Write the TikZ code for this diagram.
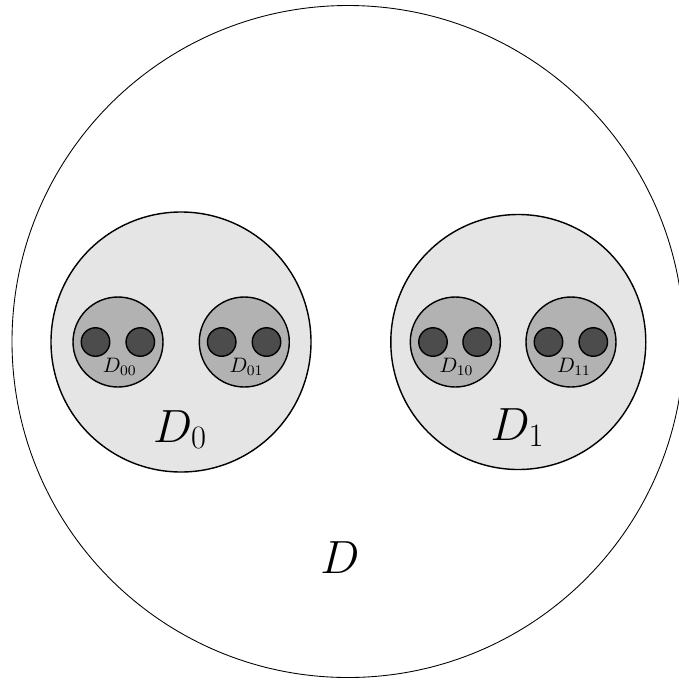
\documentclass[tikz,border=0pt]{standalone}
\usepackage{fix-cm}
\usepackage{tikz}

\begin{document}
\begin{tikzpicture}[x=0.02cm, y=-0.02cm,
	outerdisk/.style={shape=circle, draw, line width=0.5pt, inner sep=0pt, minimum size=672*0.02cm},
	leveldisk/.style={shape=circle, draw, line width=0.8pt, inner sep=0pt, fill=gray!20},
	subdisk/.style={shape=circle, draw, line width=0.8pt, inner sep=0pt, fill=gray!60, minimum size=90*0.02cm},
	leafdisk/.style={shape=circle, draw, line width=0.8pt, inner sep=0pt, fill=black!70, minimum size=28.5*0.02cm},
	biglabel/.style={anchor=base, inner sep=0pt, font=\fontsize{26.5}{30}\selectfont},
	smalllabel/.style={anchor=base, inner sep=0pt, font=\fontsize{11.9}{14}\selectfont}]
	\useasboundingbox (0, 0) rectangle (679, 681);
	\clip (0, 0) rectangle (679, 681);
	% Outer set:
	\node[outerdisk] (D) at (348, 341.5){};
	\node[biglabel] (lD) at (340, 573){$D$};
	% First level:
	\node[leveldisk, minimum size=260*0.02cm] (D0) at (181, 342){};
	\node[leveldisk, minimum size=255*0.02cm] (D1) at (518.3, 342){};
	\node[biglabel] (lD0) at (180, 442){$D_0$};
	\node[biglabel] (lD1) at (517.5, 440){$D_1$};
	% Second level:
	\node[subdisk] (D00) at (118, 342){};
	\node[subdisk] (D01) at (244.3, 342){};
	\node[subdisk] (D10) at (455.3, 342){};
	\node[subdisk] (D11) at (571, 342){};
	% Third level:
	\node[leafdisk] (D000) at (95.5, 342){};
	\node[leafdisk] (D001) at (140.3, 342){};
	\node[leafdisk] (D010) at (221.7, 342){};
	\node[leafdisk] (D011) at (266.5, 342){};
	\node[leafdisk] (D100) at (433, 342){};
	\node[leafdisk] (D101) at (477.2, 342){};
	\node[leafdisk] (D110) at (548.5, 342){};
	\node[leafdisk] (D111) at (593.3, 342){};
	\node[smalllabel] (lD00) at (119.7, 372.7){$D_{00}$};
	\node[smalllabel] (lD01) at (246.5, 372.7){$D_{01}$};
	\node[smalllabel] (lD10) at (456.5, 372.7){$D_{10}$};
	\node[smalllabel] (lD11) at (574, 372.7){$D_{11}$};
\end{tikzpicture}
\end{document}
